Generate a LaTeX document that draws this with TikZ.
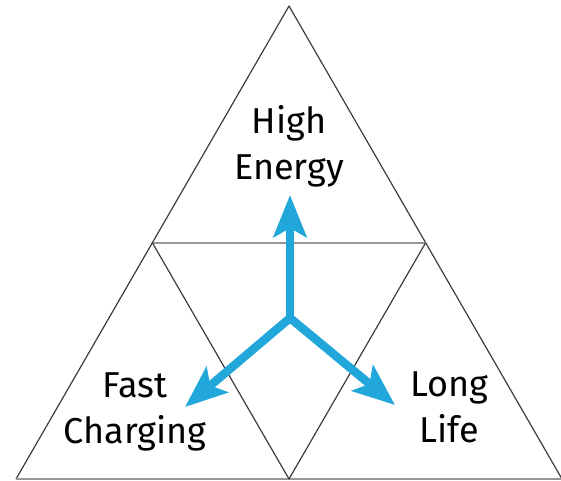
\documentclass[tikz,border=0pt]{standalone}
\usepackage{fontspec}
\setmainfont{Fira Sans}
\usetikzlibrary{arrows.meta}
\definecolor{flecha}{RGB}{34,167,219}
\definecolor{trazo}{RGB}{60,60,60}
\definecolor{trazoclaro}{RGB}{150,150,150}
\begin{document}
\begin{tikzpicture}[x=1pt, y=-1pt, line join=round,
    lado/.style={draw=trazo, line width=1.2pt},
    ladoclaro/.style={draw=trazoclaro, line width=1.2pt},
    eje/.style={draw=flecha, line width=8.5pt, line cap=round,
      -{Stealth[length=42pt, width=33pt, inset=9pt]}},
    rotulo/.style={align=center, inner sep=0pt, font=\fontsize{36}{46}\selectfont}]
  \useasboundingbox (0,0) rectangle (561,480);
  % los vertices del triangulo grande y los puntos medios
  \coordinate (cima) at (289,6);
  \coordinate (izq) at (16,479);
  \coordinate (der) at (562,479);
  \coordinate (medizq) at (152.5,243);
  \coordinate (medder) at (425.5,243);
  \coordinate (medbajo) at (289,479);
  % el triangulo y sus divisiones
  \draw[lado] (izq) -- (cima) -- (der);
  \draw[ladoclaro] (izq) -- (der);
  \draw[ladoclaro] (medizq) -- (medder);
  \draw[lado] (medizq) -- (medbajo) -- (medder);
  % las tres flechas desde el centro
  \coordinate (centro) at (290,318);
  \coordinate (puntaarriba) at (290,195);
  \coordinate (puntaizq) at (185,407);
  \coordinate (puntader) at (395,405);
  \draw[eje] (centro) -- (puntaarriba);
  \draw[eje] (centro) -- (puntaizq);
  \draw[eje] (centro) -- (puntader);
  % los rotulos
  \node[rotulo] (energia) at (289,146) {High\\Energy};
  \node[rotulo] (carga) at (135,412) {Fast\\Charging};
  \node[rotulo] (vida) at (449,407) {Long\\Life};
\end{tikzpicture}
\end{document}
